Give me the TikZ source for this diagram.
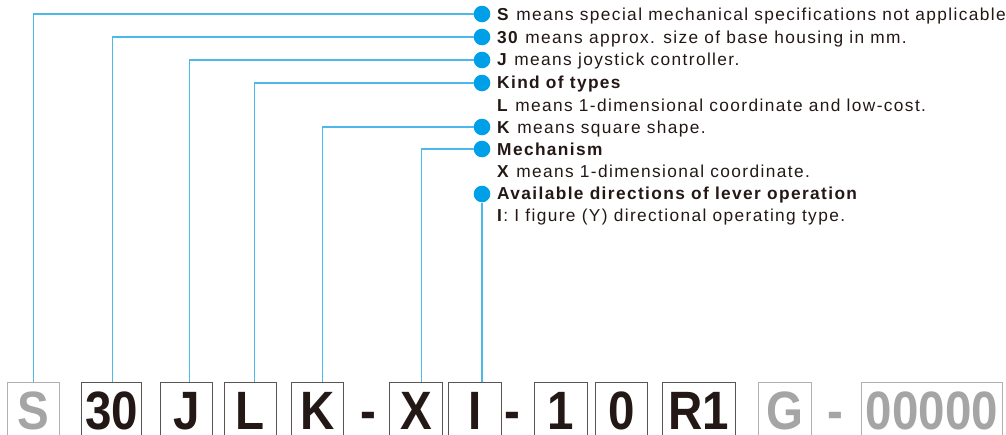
\documentclass[tikz,border=0pt]{standalone}
\usepackage{fontspec}
\setmainfont{Liberation Sans}[LetterSpace=8]
\newfontfamily\boxfont{Liberation Sans}[FakeStretch=0.88]
\definecolor{ink}{HTML}{231815}
\definecolor{linec}{HTML}{4DB9EA}
\definecolor{dotc}{HTML}{00A0E9}
\definecolor{greyt}{HTML}{A5A5A5}
\definecolor{boxd}{HTML}{5A5555}
\definecolor{boxg}{HTML}{B0B0B0}
\begin{document}
\begin{tikzpicture}[x=1pt,y=-1pt,
  codebox/.style={draw=boxd, line width=0.9pt, minimum height=60pt, anchor=north west,
    inner sep=0pt},
  greybox/.style={codebox, draw=boxg},
  lab/.style={anchor=base, inner sep=0pt, text depth=0pt, text height=39pt,
    font=\boxfont\bfseries\fontsize{54}{54}\selectfont, text=ink},
  greylab/.style={lab, text=greyt},
  dot/.style={circle, fill=dotc, minimum size=16.6pt, inner sep=0pt},
  conn/.style={draw=linec, line width=1.3pt},
  desc/.style={anchor=base west, inner sep=0pt, font=\fontsize{17.3}{20}\selectfont, text=ink}]
\useasboundingbox (0,0) rectangle (1006,434);
\clip (0,0) rectangle (1006,434);
% code boxes
\node[greybox, minimum width=52pt] (bS) at (7,382) {};
\node[codebox, minimum width=60pt] (b30) at (81,382) {};
\node[codebox, minimum width=52pt] (bJ) at (160,382) {};
\node[codebox, minimum width=52pt] (bL) at (224,382) {};
\node[codebox, minimum width=52pt] (bK) at (291,382) {};
\node[codebox, minimum width=53pt] (bX) at (389,382) {};
\node[codebox, minimum width=53pt] (bI) at (448,382) {};
\node[codebox, minimum width=53pt] (b1) at (534,382) {};
\node[codebox, minimum width=52pt] (b0) at (595,382) {};
\node[codebox, minimum width=73pt] (bR) at (662,382) {};
\node[greybox, minimum width=53pt] (bG) at (758,382) {};
\node[greybox, minimum width=141pt] (bZ) at (861,382) {};
% hyphens
\node[lab] (h1) at (368,429.5) {-};
\node[lab] (h2) at (512,429.5) {-};
\node[greylab] (h3) at (835,429.5) {-};
% box labels
\node[greylab] (lS) at (bS.north |- h1.base) {S};
\node[lab] (l30) at (b30.north |- h1.base) {30};
\node[lab] (lJ) at (bJ.north |- h1.base) {J};
\node[lab] (lL) at (bL.north |- h1.base) {L};
\node[lab] (lK) at (bK.north |- h1.base) {K};
\node[lab] (lX) at (bX.north |- h1.base) {X};
\node[lab] (lI) at (bI.north |- h1.base) {I};
\node[lab] (l1) at (b1.north |- h1.base) {1};
\node[lab] (l0) at (b0.north |- h1.base) {0};
\node[lab] (lR) at (bR.north |- h1.base) {R1};
\node[greylab] (lG) at (bG.north |- h1.base) {G};
\node[greylab] (lZ) at (bZ.north |- h1.base) {00000};
% dots
\node[dot] (d1) at (482,14) {};
\node[dot] (d2) at (482,37) {};
\node[dot] (d3) at (482,60) {};
\node[dot] (d4) at (482,83) {};
\node[dot] (d5) at (482,127) {};
\node[dot] (d6) at (482,149) {};
\node[dot] (d7) at (482,194) {};
% connectors
\draw[conn] (d1) -| (bS.north);
\draw[conn] (d2) -| ([xshift=1pt]b30.north);
\draw[conn] (d3) -| ([xshift=3pt]bJ.north);
\draw[conn] (d4) -| ([xshift=4pt]bL.north);
\draw[conn] (d5) -| ([xshift=5pt]bK.north);
\draw[conn] (d6) -| ([xshift=5.5pt]bX.north);
\draw[conn] (d7) -- (d7 |- bI.north);
% descriptions
\node[desc] (t1) at (497,20) {\textbf{S} means special mechanical specifications not applicable};
\node[desc] (t2) at (497,43) {\textbf{30} means approx. size of base housing in mm.};
\node[desc] (t3) at (497,65.5) {\textbf{J} means joystick controller.};
\node[desc] (t4) at (497,88) {\textbf{Kind of types}};
\node[desc] (t5) at (497,111) {\textbf{L} means 1-dimensional coordinate and low-cost.};
\node[desc] (t6) at (497,133) {\textbf{K} means square shape.};
\node[desc] (t7) at (497,155) {\textbf{Mechanism}};
\node[desc] (t8) at (497,177) {\textbf{X} means 1-dimensional coordinate.};
\node[desc] (t9) at (497,199.5) {\textbf{Available directions of lever operation}};
\node[desc] (t10) at (497,221.5) {\textbf{I}: I figure (Y) directional operating type.};
\end{tikzpicture}
\end{document}
